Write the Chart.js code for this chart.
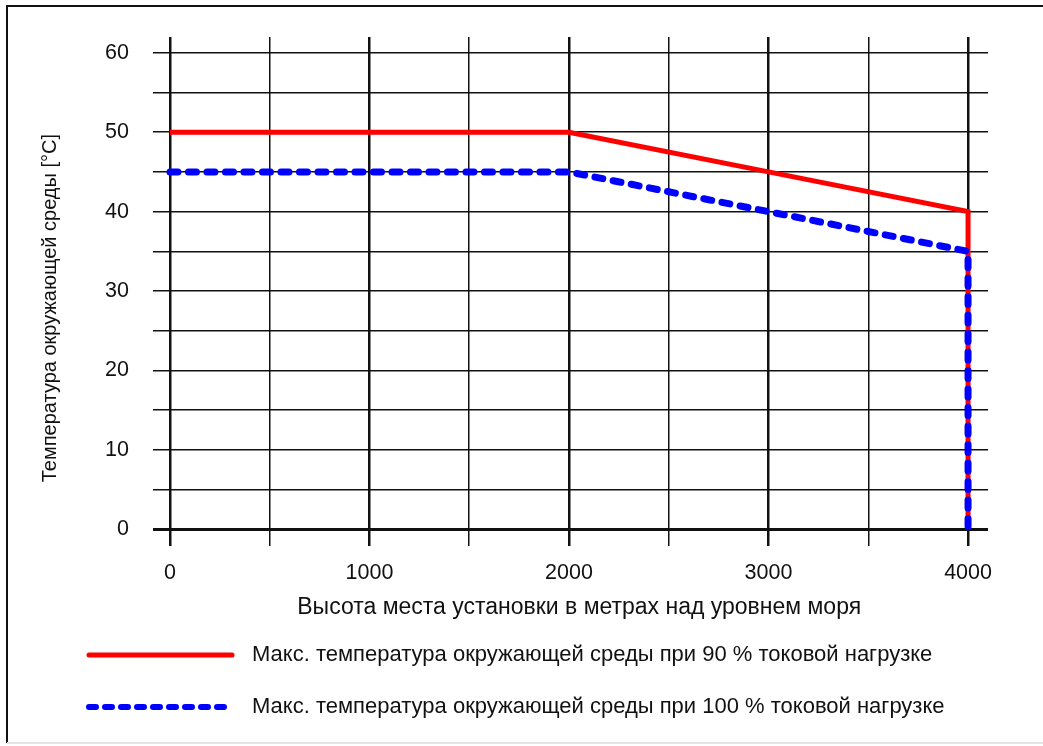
<!DOCTYPE html>
<html>
<head>
<meta charset="utf-8">
<script src="https://cdn.jsdelivr.net/npm/chart.js@4.4.1/dist/chart.umd.min.js"></script>
<style>
  html, body { margin: 0; padding: 0; background: #fff; }
  #wrap { position: relative; width: 1043px; height: 746px; }
</style>
</head>
<body>
<div id="wrap"><canvas id="deratingChart" width="1043" height="746"></canvas></div>
<script>
// altitude in metres, temperature in °C
const altitude = [0, 2000, 3000, 4000, 4000];
const temp90 = [50, 50, 45, 40, 0];
const temp100 = [45, 45, 40, 35, 0];

const xTicks = [0, 500, 1000, 1500, 2000, 2500, 3000, 3500, 4000];
const yTicks = [0, 5, 10, 15, 20, 25, 30, 35, 40, 45, 50, 55, 60];

const label90 = "Макс. температура окружающей среды при 90 % токовой нагрузке";
const label100 = "Макс. температура окружающей среды при 100 % токовой нагрузке";
const xTitle = "Высота места установки в метрах над уровнем моря";
const yTitle = "Температура окружающей среды [°C]";

const FONT = "'Liberation Sans', Arial, sans-serif";

function toPoints(xs, ys) {
  return xs.map((x, i) => ({ x: x, y: ys[i] }));
}

// dashed legend sample: n short dashes then a long gap
function legendDash(n, on, off) {
  const d = [];
  for (let i = 0; i < n; i++) {
    d.push(on, i < n - 1 ? off : 1000);
  }
  return d;
}

// frame around the whole figure
const framePlugin = {
  id: "frame",
  beforeDraw(chart) {
    const ctx = chart.ctx;
    ctx.save();
    ctx.strokeStyle = "#111";
    ctx.lineWidth = 2;
    ctx.beginPath();
    ctx.moveTo(7, 743);
    ctx.lineTo(7, 6);
    ctx.lineTo(1043, 6);
    ctx.stroke();
    ctx.strokeStyle = "#e6e6e6";
    ctx.beginPath();
    ctx.moveTo(7, 743);
    ctx.lineTo(1043, 743);
    ctx.stroke();
    ctx.restore();
  }
};

Chart.defaults.font.family = FONT;
Chart.defaults.font.size = 22;
Chart.defaults.color = "#111";

const ctx = document.getElementById("deratingChart").getContext("2d");

const deratingChart = new Chart(ctx, {
  type: "line",
  data: {
    datasets: [
      {
        label: label90,
        data: toPoints(altitude, temp90),
        borderColor: "#ff0000",
        backgroundColor: "#ff0000",
        borderWidth: 5,
        pointRadius: 0,
        fill: false,
        tension: 0,
        order: 1
      },
      {
        label: label100,
        data: toPoints(altitude, temp100),
        borderColor: "#0000ff",
        backgroundColor: "#0000ff",
        borderWidth: 7,
        borderDash: [8, 10.5],
        borderCapStyle: "round",
        borderJoinStyle: "round",
        pointRadius: 0,
        fill: false,
        tension: 0,
        order: 0
      }
    ]
  },
  options: {
    responsive: false,
    animation: false,
    layout: {
      padding: { left: 59, right: 55, top: 34, bottom: 18 }
    },
    plugins: {
      tooltip: { enabled: false },
      legend: {
        position: "bottom",
        align: "start",
        labels: {
          boxWidth: 152,
          boxHeight: 0,
          padding: 30,
          color: "#111",
          font: { size: 22 },
          generateLabels: (chart) => [
            {
              text: label90,
              datasetIndex: 0,
              fillStyle: "#ff0000",
              strokeStyle: "#ff0000",
              lineWidth: 5,
              lineCap: "round",
              lineDash: [143, 1000],
              fontColor: "#111"
            },
            {
              text: label100,
              datasetIndex: 1,
              fillStyle: "#0000ff",
              strokeStyle: "#0000ff",
              lineWidth: 6,
              lineCap: "round",
              lineDash: legendDash(9, 7, 9),
              fontColor: "#111"
            }
          ]
        }
      }
    },
    scales: {
      x: {
        type: "linear",
        min: -85,
        max: 4100,
        afterBuildTicks: (scale) => {
          scale.ticks = xTicks.map((v) => ({ value: v }));
        },
        afterFit: (scale) => {
          scale.height = 68;
        },
        ticks: {
          padding: 14,
          maxRotation: 0,
          color: "#111",
          font: { size: 21.5 },
          callback: (v) => (v % 1000 === 0 ? String(v) : "")
        },
        grid: {
          drawTicks: false,
          color: "#111",
          lineWidth: (c) => (c.tick && c.tick.value % 1000 === 0 ? 2.5 : 1.5)
        },
        border: { display: false },
        title: {
          display: true,
          // leading spaces nudge the title a bit right, as in the original
          text: "\u00A0\u00A0\u2009" + xTitle,
          color: "#111",
          font: { size: 23 },
          padding: { top: 0, bottom: -7 }
        }
      },
      y: {
        type: "linear",
        min: -2.1,
        max: 62,
        afterBuildTicks: (scale) => {
          scale.ticks = yTicks.map((v) => ({ value: v }));
        },
        afterFit: (scale) => {
          scale.width = 94;
        },
        ticks: {
          padding: 24,
          color: "#111",
          font: { size: 21.5 },
          callback: (v) => (v % 10 === 0 ? String(v) : "")
        },
        grid: {
          drawTicks: false,
          color: "#111",
          lineWidth: (c) => (c.tick && c.tick.value === 0 ? 3 : 1.5)
        },
        border: { display: false },
        title: {
          display: true,
          // trailing spaces push the text a little down, as in the original
          text: yTitle + "\u00A0\u00A0\u00A0\u00A0\u00A0\u00A0",
          color: "#111",
          font: { size: 20 },
          padding: { top: -21, bottom: 0 }
        }
      }
    }
  },
  plugins: [framePlugin]
});
</script>
</body>
</html>
